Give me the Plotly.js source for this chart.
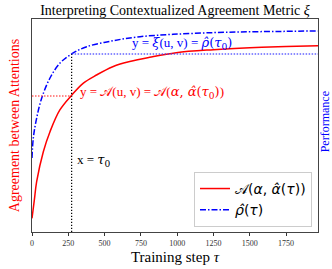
<!DOCTYPE html>
<html><head><meta charset="utf-8">
<script src="https://cdn.plot.ly/plotly-3.0.1.min.js"></script>
<style>html,body{margin:0;padding:0;background:#fff}#chart{width:332px;height:269px}</style>
</head><body><div id="chart"></div>
<script>
// Agreement curve A(α, α̂(τ))
const tauA  = [0, 16, 32, 78, 124, 192, 273, 352, 444, 556, 673, 810, 993, 1250, 1500, 1750, 1970];
const agree = [0.064, 0.150, 0.236, 0.377, 0.471, 0.573, 0.642, 0.698, 0.737, 0.776, 0.800, 0.820, 0.842, 0.856, 0.865, 0.871, 0.875];
// Performance curve ρ̂(τ)
const tauP = [0, 9, 32, 67, 124, 193, 273, 377, 558, 744, 971, 1250, 1500, 1750, 1970];
const perf = [0.347, 0.441, 0.535, 0.629, 0.723, 0.793, 0.836, 0.870, 0.898, 0.917, 0.928, 0.936, 0.940, 0.942, 0.944];
// Reference point
const tau0 = 273;
const agreeAtTau0 = 0.638;
const perfAtTau0 = 0.836;
const xMax = 1970;
const xTicks = [0, 250, 500, 750, 1000, 1250, 1500, 1750];

const serif = "Liberation Serif, Times New Roman, serif";
const sans = "DejaVu Sans, sans-serif";
const m = s => '<span style="font-family:DejaVu Serif">' + s + '</span>';

const traces = [
  {x: tauA, y: agree, mode: 'lines', line: {color: '#ff0000', width: 1.5, shape: 'spline'},
   name: '𝒜(<i>α</i>, <i>α̂</i>(<i>τ</i>))'},
  {x: tauP, y: perf, mode: 'lines', line: {color: '#0000ff', width: 1.5, dash: '6px,2px,1.5px,2px', shape: 'spline'},
   name: '<i>ρ̂</i>(<i>τ</i>)'},
  {x: [tau0, tau0], y: [0, perfAtTau0], mode: 'lines', showlegend: false, hoverinfo: 'skip',
   line: {color: '#000', width: 1.2, dash: '1.2px,1.8px'}},
  {x: [0, tau0], y: [agreeAtTau0, agreeAtTau0], mode: 'lines', showlegend: false, hoverinfo: 'skip',
   line: {color: 'rgba(255,60,60,0.8)', width: 1.5, dash: '1.5px,1.5px'}},
  {x: [tau0, xMax], y: [perfAtTau0, perfAtTau0], mode: 'lines', showlegend: false, hoverinfo: 'skip',
   line: {color: 'rgba(60,60,255,0.8)', width: 1.5, dash: '1.5px,1.5px'}}
];

const layout = {
  width: 332, height: 269,
  margin: {l: 32, r: 14, t: 19, b: 37},
  paper_bgcolor: '#fff', plot_bgcolor: '#fff',
  showlegend: true,
  title: {text: 'Interpreting Contextualized Agreement Metric <i>ξ</i>', font: {family: serif, size: 14, color: '#000'},
          x: 0.5, xref: 'paper', y: 0.963, yanchor: 'middle'},
  xaxis: {range: [0, xMax], tickvals: xTicks, ticktext: xTicks.map(String),
          ticks: 'outside', ticklen: 3, tickcolor: '#333', tickfont: {family: serif, size: 8, color: '#333'},
          showline: true, linecolor: '#444', linewidth: 1, mirror: true, showgrid: false, zeroline: false,
          title: {text: 'Training step <i>τ</i>', font: {family: serif, size: 15, color: '#000'}, standoff: 4}},
  yaxis: {range: [0, 1], showticklabels: false, ticks: '', showgrid: false, zeroline: false,
          showline: true, linecolor: '#444', linewidth: 1, mirror: true,
          title: {text: 'Agreement between Attentions', font: {family: serif, size: 14, color: '#ff0000'}, standoff: 8}},
  legend: {x: 0.979, xanchor: 'right', y: 0.282, yanchor: 'top', bgcolor: '#fff', bordercolor: '#ccc', borderwidth: 1,
           font: {family: sans, size: 14, color: '#000'}},
  annotations: [
    {x: 675, y: 0.887, xref: 'x', yref: 'y', xanchor: 'left', yanchor: 'middle', showarrow: false,
     text: 'y = ' + m('<i>ξ</i>') + '(u, v) = ' + m('<i>ρ̂</i>(<i>τ</i><sub>0</sub>)'), font: {family: serif, size: 13, color: '#0000ff'}},
    {x: 317, y: 0.653, xref: 'x', yref: 'y', xanchor: 'left', yanchor: 'middle', showarrow: false,
     text: 'y = 𝒜(u, v) = 𝒜(' + m('<i>α</i>, <i>α̂</i>(<i>τ</i><sub>0</sub>)') + ')', font: {family: serif, size: 13, color: '#ff0000'}},
    {x: 296, y: 0.338, xref: 'x', yref: 'y', xanchor: 'left', yanchor: 'middle', showarrow: false,
     text: 'x = ' + m('<i>τ</i><sub>0</sub>'), font: {family: serif, size: 13, color: '#000'}},
    {x: 1.0245, y: 0.515, xref: 'paper', yref: 'paper', xanchor: 'center', yanchor: 'middle', showarrow: false, textangle: -90,
     text: 'Performance', font: {family: serif, size: 12, color: '#0000ff'}}
  ]
};

Plotly.newPlot('chart', traces, layout, {displayModeBar: false, staticPlot: true});
</script>
</body></html>
